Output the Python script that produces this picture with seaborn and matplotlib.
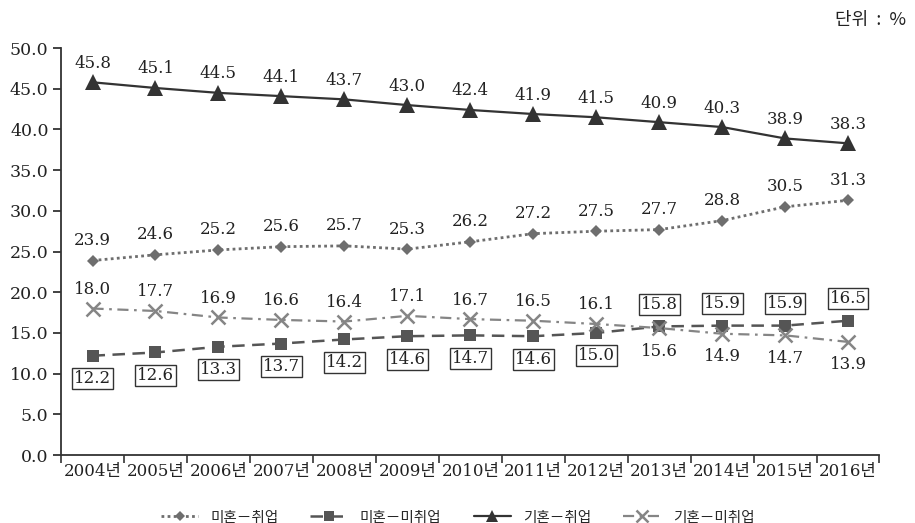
import matplotlib
matplotlib.use("Agg")
import matplotlib.pyplot as plt
from matplotlib.ticker import FixedLocator, MultipleLocator, FormatStrFormatter
import seaborn as sns
import pandas as pd

years = ["2004년", "2005년", "2006년", "2007년", "2008년", "2009년", "2010년",
         "2011년", "2012년", "2013년", "2014년", "2015년", "2016년"]
single_employed = [23.9, 24.6, 25.2, 25.6, 25.7, 25.3, 26.2, 27.2, 27.5, 27.7, 28.8, 30.5, 31.3]
single_unemployed = [12.2, 12.6, 13.3, 13.7, 14.2, 14.6, 14.7, 14.6, 15.0, 15.8, 15.9, 15.9, 16.5]
married_employed = [45.8, 45.1, 44.5, 44.1, 43.7, 43.0, 42.4, 41.9, 41.5, 40.9, 40.3, 38.9, 38.3]
married_unemployed = [18.0, 17.7, 16.9, 16.6, 16.4, 17.1, 16.7, 16.5, 16.1, 15.6, 14.9, 14.7, 13.9]
series_names = ["미혼－취업", "미혼－미취업", "기혼－취업", "기혼－미취업"]

sns.set_style("ticks")
num_font = ["DejaVu Serif", "Noto Sans CJK KR"]
kr_font = ["Noto Sans CJK KR", "DejaVu Sans"]
plt.rcParams["font.family"] = num_font

fig = plt.figure(figsize=(9.15, 5.23), dpi=100)
ax = fig.add_axes([0.0667, 0.130, 0.8945, 0.778])

idx = list(range(len(years)))
df = pd.DataFrame({"idx": idx,
                   series_names[0]: single_employed,
                   series_names[1]: single_unemployed,
                   series_names[2]: married_employed,
                   series_names[3]: married_unemployed})

styles = {
    series_names[0]: dict(color="#6e6e6e", marker="D", markersize=6.5, linestyle=(0, (1, 1.2)),
                          linewidth=2.0, markeredgewidth=0, markeredgecolor="#6e6e6e"),
    series_names[1]: dict(color="#555555", marker="s", markersize=8, linestyle=(0, (5, 3)),
                          linewidth=1.8, markeredgewidth=0, markeredgecolor="#555555"),
    series_names[2]: dict(color="#333333", marker="^", markersize=11, linestyle="-",
                          linewidth=1.6, markeredgewidth=0, markeredgecolor="#333333"),
    series_names[3]: dict(color="#858585", marker="x", markersize=10,
                          linestyle=(0, (5, 2.5, 1.2, 2.5)), linewidth=1.6,
                          markeredgewidth=1.8, markeredgecolor="#858585"),
}

handles = []
for name in series_names:
    st = styles[name]
    sns.lineplot(data=df, x="idx", y=name, ax=ax, label=name, legend=False, **st)
    handles.append(ax.lines[-1])

# value labels
lab_kw = dict(ha="center", va="center", fontsize=12, color="#222222",
              textcoords="offset pixels", family=num_font)
box = dict(boxstyle="square,pad=0.12", fc="white", ec="#333333", lw=1.0)

for i, v in enumerate(married_employed):
    ax.annotate(f"{v:.1f}", (i, v), xytext=(0, 19), **lab_kw)
for i, v in enumerate(single_employed):
    ax.annotate(f"{v:.1f}", (i, v), xytext=(0, 20), **lab_kw)
for i, v in enumerate(married_unemployed):
    dy = 19 if i < 9 else -23
    ax.annotate(f"{v:.1f}", (i, v), xytext=(0, dy), **lab_kw)
for i, v in enumerate(single_unemployed):
    dy = -23 if i < 9 else 22
    ax.annotate(f"{v:.1f}", (i, v), xytext=(0, dy), bbox=box, **lab_kw)

ax.set_xlim(-0.5, len(years) - 0.5)
ax.set_ylim(0, 50)
ax.yaxis.set_major_locator(MultipleLocator(5))
ax.yaxis.set_major_formatter(FormatStrFormatter("%.1f"))
ax.set_xticks(idx)
ax.set_xticklabels(years)
ax.xaxis.set_minor_locator(FixedLocator([i - 0.5 for i in range(len(years) + 1)]))
ax.tick_params(axis="x", which="major", length=0, pad=6, labelsize=12, colors="#222222")
ax.tick_params(axis="x", which="minor", length=6, width=1.2, direction="out", color="#333333")
ax.tick_params(axis="y", which="major", length=6, width=1.2, direction="out", labelsize=12.5,
               colors="#222222", pad=3)
for lab in ax.get_xticklabels() + ax.get_yticklabels():
    lab.set_family(num_font)
ax.set_xlabel("")
ax.set_ylabel("")
for s in ["top", "right"]:
    ax.spines[s].set_visible(False)
for s in ["left", "bottom"]:
    ax.spines[s].set_color("#333333")
    ax.spines[s].set_linewidth(1.3)

fig.legend(handles, series_names, loc="lower center", bbox_to_anchor=(0.5, -0.028),
           ncol=4, frameon=False, handlelength=2.6, columnspacing=2.2, handletextpad=0.8,
           markerscale=0.85, prop={"family": kr_font, "size": 10.5})

fig.text(0.99, 0.962, "단위  :  %", ha="right", va="center", fontsize=13,
         family=kr_font, color="#222222")

fig.savefig("out.png", dpi=100)
